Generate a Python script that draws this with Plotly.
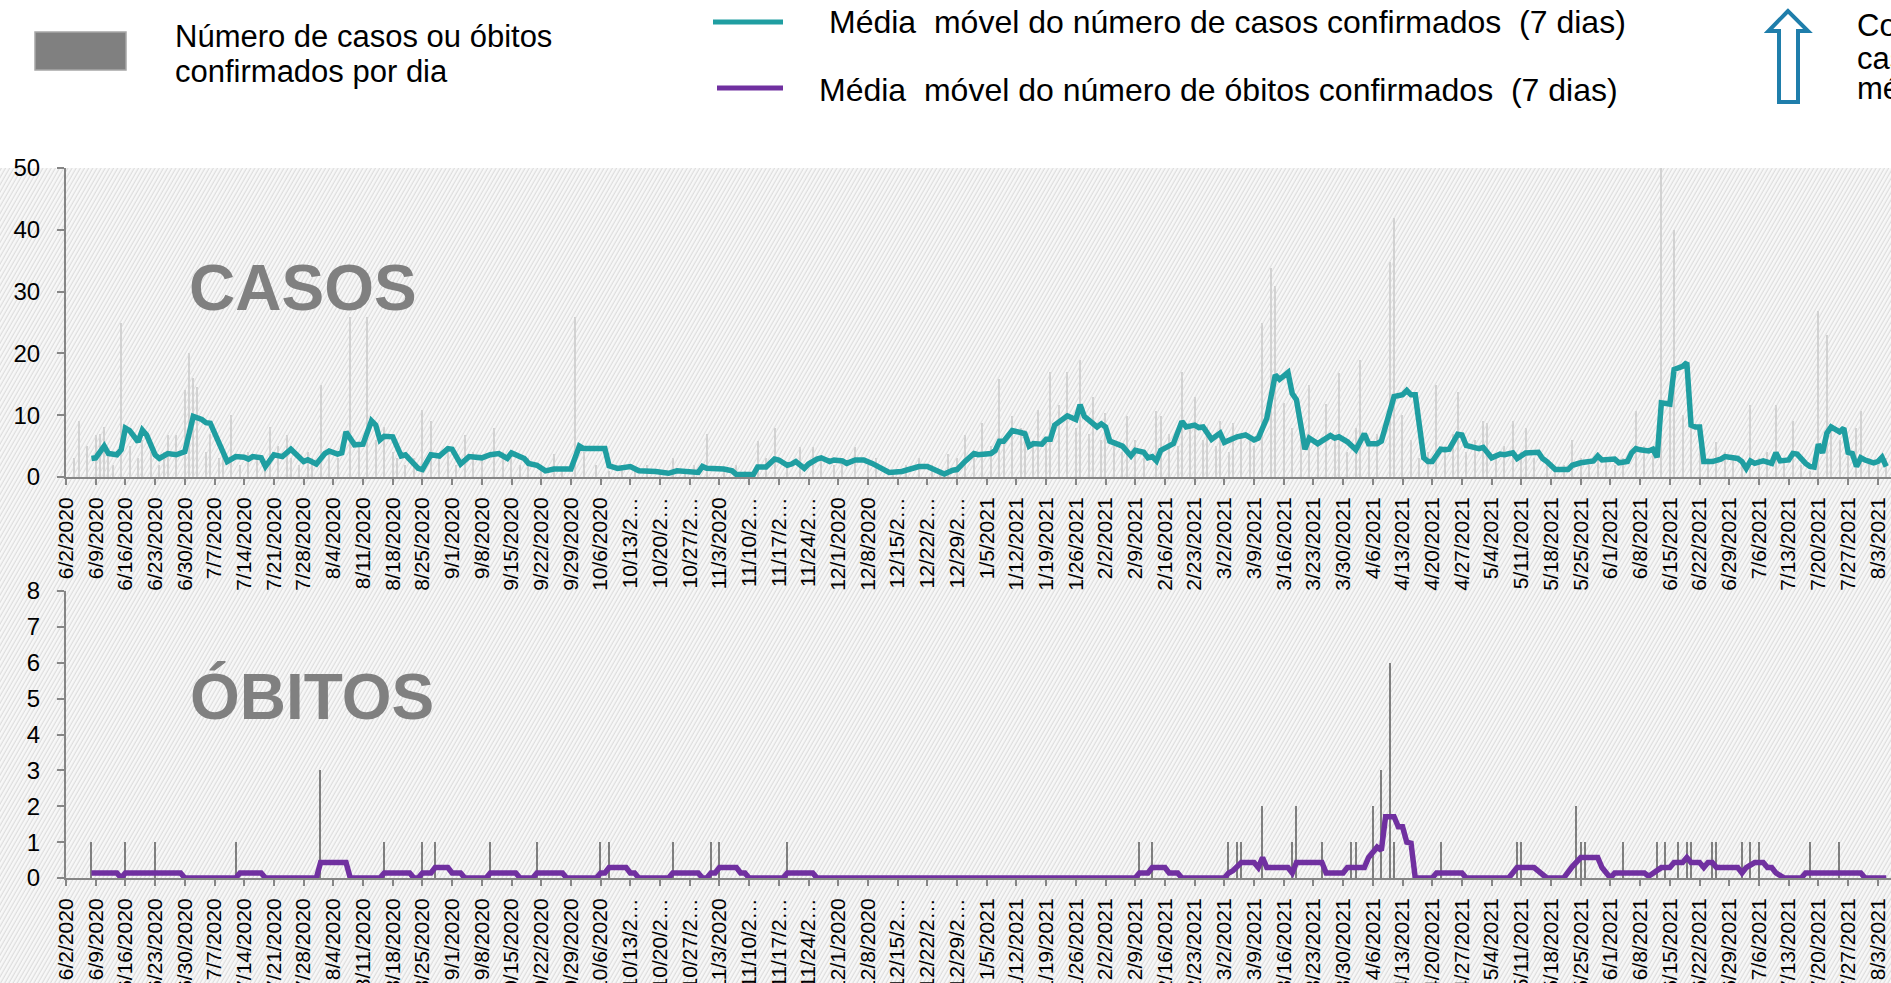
import base64
import pandas as pd
import plotly.graph_objects as go

W, H = 1891, 983
START = "2020-06-02"

# ---------------- data (day offsets counted from START) ----------------
# 7-day moving average of confirmed cases (vertices)
ma_cases_day = [6, 7, 9, 10, 12, 13, 14, 15, 17, 18, 19, 21, 22, 24, 26, 27, 28, 30, 32, 33, 34, 38, 40, 42, 43, 44,
                46, 47, 49, 51, 53, 56, 57, 59, 61, 62, 64, 65, 66, 68, 70, 72, 73, 74, 75, 77, 79, 80, 83, 84, 86, 88,
                90, 91, 93, 95, 98, 100, 102, 104, 105, 108, 109, 111, 113, 115, 119, 121, 122, 127, 128, 130, 133,
                135, 139, 142, 144, 149, 150, 151, 155, 157, 158, 162, 163, 165, 167, 168, 170, 171, 172, 174, 175,
                177, 178, 180, 181, 183, 184, 186, 188, 190, 192, 194, 197, 199, 201, 203, 205, 207, 209, 210, 212,
                214, 215, 218, 219, 220, 221, 223, 225, 226, 227, 228, 230, 231, 232, 233, 236, 238, 239, 240, 243,
                244, 245, 246, 249, 251, 252, 254, 255, 256, 257, 258, 261, 263, 264, 266, 267, 268, 270, 272, 273,
                276, 278, 280, 281, 283, 285, 286, 288, 289, 290, 292, 293, 295, 298, 299, 300, 302, 304, 306, 307,
                309, 310, 311, 313, 315, 316, 317, 318, 320, 321, 322, 324, 325, 326, 328, 329, 330, 332, 333, 334,
                336, 338, 339, 341, 342, 344, 347, 348, 349, 351, 354, 355, 357, 360, 361, 362, 365, 366, 368, 369,
                370, 371, 373, 374, 375, 376, 378, 379, 381, 382, 383, 384, 385, 386, 388, 390, 391, 394, 395, 396,
                397, 398, 400, 402, 403, 404, 406, 407, 408, 410, 411, 412, 413, 414, 415, 416, 418, 419, 420, 421,
                422, 423, 424, 426, 427, 428, 429]
ma_cases_val = [3.0, 3.1, 5.0, 3.8, 3.6, 4.4, 7.9, 7.5, 5.7, 7.6, 6.8, 3.6, 3.0, 3.8, 3.6, 3.9, 4.1, 9.8, 9.3, 8.8, 8.7,
                2.5, 3.3, 3.2, 2.9, 3.3, 3.1, 1.7, 3.6, 3.3, 4.5, 2.5, 2.8, 2.1, 3.8, 4.2, 3.7, 3.9, 7.3, 5.2, 5.3, 9.1,
                8.4, 6.0, 6.6, 6.5, 3.4, 3.6, 1.4, 1.2, 3.6, 3.4, 4.6, 4.5, 2.1, 3.3, 3.1, 3.6, 3.8, 3.0, 3.9, 3.0, 2.2,
                1.9, 1.0, 1.3, 1.3, 5.0, 4.6, 4.6, 1.8, 1.4, 1.7, 1.0, 0.9, 0.6, 1.0, 0.75, 1.7, 1.4, 1.3, 1.0, 0.4,
                0.4, 1.6, 1.6, 2.9, 2.75, 1.9, 2.1, 2.5, 1.4, 2.1, 2.9, 3.1, 2.5, 2.75, 2.6, 2.2, 2.75, 2.75, 2.2, 1.4,
                0.75, 0.9, 1.3, 1.7, 1.7, 1.1, 0.5, 1.1, 1.2, 2.6, 3.8, 3.6, 3.8, 4.3, 5.8, 5.8, 7.5, 7.2, 7.0, 5.0,
                5.4, 5.3, 6.1, 6.1, 8.4, 9.9, 9.3, 11.7, 9.8, 8.1, 8.6, 8.1, 5.8, 5.0, 3.4, 4.3, 4.0, 3.1, 3.3, 2.6,
                4.3, 5.4, 9.0, 8.1, 8.4, 8.0, 8.1, 6.1, 7.1, 5.6, 6.5, 6.8, 6.0, 6.3, 9.5, 16.5, 15.8, 16.9, 13.5,
                12.5, 4.5, 6.3, 5.4, 6.7, 6.3, 6.5, 5.7, 4.4, 7.0, 5.4, 5.4, 5.8, 8.1, 13.0, 13.3, 14.0, 13.3, 13.3,
                3.1, 2.5, 2.5, 4.5, 4.4, 4.5, 6.9, 6.8, 5.1, 4.9, 4.6, 4.8, 3.1, 3.7, 3.6, 3.9, 3.0, 3.9, 4.0, 3.0,
                2.5, 1.2, 1.2, 1.9, 2.3, 2.6, 3.4, 2.75, 2.9, 2.3, 2.5, 3.9, 4.6, 4.4, 4.2, 4.5, 3.2, 12.0, 11.8,
                17.4, 17.9, 18.5, 8.4, 8.1, 8.1, 2.5, 2.5, 2.9, 3.3, 3.0, 2.5, 1.4, 2.6, 2.2, 2.6, 2.2, 3.9, 2.6,
                2.75, 3.8, 3.7, 2.2, 1.7, 1.6, 5.3, 3.9, 7.1, 8.1, 7.3, 7.9, 4.0, 3.8, 1.7, 3.1, 2.75, 2.3, 2.5,
                3.2, 1.7]

# 7-day moving average of confirmed deaths
ma_deaths_day = [6, 12, 13, 14, 27, 28, 40, 41, 46, 47, 59, 60, 66, 67, 74, 75, 81, 82, 83, 84, 86, 87, 90, 91, 93, 94,
                 99, 100, 106, 107, 110, 111, 117, 118, 125, 126, 127, 128, 132, 133, 134, 135, 142, 143, 149, 150,
                 151, 152, 153, 154, 158, 159, 160, 161, 169, 170, 176, 177, 252, 253, 255, 256, 259, 260, 262, 263,
                 273, 274, 275, 277, 280, 281, 282, 283, 288, 289, 290, 296, 297, 301, 302, 306, 307, 308, 309, 310,
                 311, 313, 314, 315, 316, 317, 318, 322, 323, 329, 330, 340, 342, 346, 349, 353, 355, 357, 361, 362,
                 364, 365, 372, 373, 374, 376, 378, 379, 381, 382, 383, 385, 386, 387, 388, 389, 394, 395, 396, 398,
                 400, 401, 402, 403, 405, 409, 410, 423, 424, 429]
ma_deaths_val = [0.14, 0.14, 0.0, 0.14, 0.14, 0.0, 0.0, 0.14, 0.14, 0.0, 0.0, 0.43, 0.43, 0.0, 0.0, 0.14, 0.14, 0.0,
                 0.0, 0.14, 0.14, 0.29, 0.29, 0.14, 0.14, 0.0, 0.0, 0.14, 0.14, 0.0, 0.0, 0.14, 0.14, 0.0, 0.0, 0.14,
                 0.14, 0.29, 0.29, 0.14, 0.14, 0.0, 0.0, 0.14, 0.14, 0.0, 0.0, 0.14, 0.14, 0.29, 0.29, 0.14, 0.14,
                 0.0, 0.0, 0.14, 0.14, 0.0, 0.0, 0.14, 0.14, 0.29, 0.29, 0.14, 0.14, 0.0, 0.0, 0.14, 0.2, 0.43, 0.43,
                 0.29, 0.57, 0.29, 0.29, 0.14, 0.43, 0.43, 0.14, 0.14, 0.29, 0.29, 0.57, 0.71, 0.86, 0.77, 1.71, 1.71,
                 1.43, 1.43, 1.0, 0.97, 0.0, 0.0, 0.14, 0.14, 0.0, 0.0, 0.29, 0.29, 0.0, 0.0, 0.32, 0.57, 0.57, 0.29,
                 0.0, 0.14, 0.14, 0.05, 0.14, 0.29, 0.29, 0.43, 0.43, 0.57, 0.43, 0.43, 0.29, 0.43, 0.43, 0.29, 0.29,
                 0.14, 0.29, 0.43, 0.43, 0.29, 0.29, 0.14, 0.0, 0.0, 0.14, 0.14, 0.0, 0.0]

# daily confirmed cases (bars) - larger spikes
case_spike_day = [3, 7, 9, 13, 24, 26, 28, 29, 30, 31, 39, 48, 52, 60, 67, 71, 75, 84, 86, 94, 101, 115, 120, 143, 151,
                  163, 167, 173, 176, 186, 208, 212, 216, 220, 223, 226, 229, 232, 234, 236, 239, 242, 245, 250, 257,
                  258, 263, 266, 269, 272, 275, 279, 282, 284, 285, 293, 297, 300, 305, 312, 313, 323, 328, 334, 335,
                  341, 344, 355, 370, 376, 379, 389, 397, 403, 407, 413, 415, 422, 423]
case_spike_val = [9, 6.8, 8.1, 25, 6.8, 6.8, 14.1, 20, 16, 14.6, 10, 8.1, 6.8, 14.9, 25.9, 25.9, 8.1, 10.8, 9, 6.8, 7.9,
                  3.8, 25.9, 3, 7.0, 5.8, 7.9, 4.9, 4.8, 4.8, 3.8, 6.8, 8.8, 15.8, 9.8, 7.6, 10.8, 17, 11.7, 17, 19, 13,
                  10.3, 9.9, 10.7, 9.8, 17, 12.9, 8.1, 9, 8.7, 6.5, 24.9, 33.9, 30.9, 14.9, 11.8, 16.9, 19, 34.8, 41.9,
                  14.9, 13.8, 9, 8.7, 9, 7.9, 6, 10.7, 50, 39.9, 5.7, 11.7, 11.7, 9, 26.8, 22.9, 7.9, 10.7]
# daily confirmed cases (bars) - smaller days
case_small_day = [2, 5, 8, 10, 11, 15, 17, 18, 20, 22, 23, 33, 34, 36, 37, 41, 43, 45, 47, 50, 53, 55, 57, 58, 62, 64,
                  69, 73, 77, 78, 80, 82, 88, 90, 92, 96, 98, 103, 105, 107, 109, 112, 117, 122, 125, 128, 131, 134,
                  137, 140, 146, 148, 155, 158, 160, 165, 170, 178, 181, 183, 189, 191, 195, 198, 201, 204, 206, 210,
                  214, 218, 221, 225, 228, 231, 238, 241, 244, 247, 249, 252, 254, 260, 262, 265, 268, 271, 274, 277,
                  280, 287, 289, 291, 295, 299, 302, 304, 307, 309, 315, 317, 319, 321, 325, 327, 330, 332, 337, 339,
                  343, 346, 349, 351, 353, 357, 359, 361, 363, 365, 367, 372, 374, 378, 381, 383, 385, 387, 391, 393,
                  395, 399, 401, 405, 409, 411, 416, 418, 420, 425, 427, 429]
case_small_val = [3, 5, 7, 4, 2, 5, 3, 6, 4, 2, 4, 4, 7, 3, 5, 2, 4, 3, 2, 5, 3, 2, 4, 3, 4, 3, 5, 6, 4, 3, 2, 3, 3, 5,
                  2, 4, 3, 4, 3, 2, 3, 2, 1, 4, 2, 1, 2, 1, 2, 1, 1, 2, 1, 2, 1, 3, 2, 3, 2, 3, 2, 3, 1, 2, 3, 2, 1, 3,
                  4, 5, 6, 8, 5, 6, 8, 7, 6, 5, 4, 6, 3, 7, 5, 8, 6, 5, 4, 7, 5, 12, 8, 6, 5, 6, 4, 8, 5, 7, 10, 6, 3,
                  4, 5, 7, 4, 6, 3, 5, 4, 3, 2, 1, 2, 3, 2, 4, 3, 2, 3, 5, 4, 12, 10, 8, 6, 3, 4, 3, 2, 3, 4, 3, 2, 1,
                  8, 6, 5, 3, 2, 3]

# daily confirmed deaths (bars)
death_day = [6, 14, 21, 40, 60, 75, 84, 87, 100, 111, 126, 128, 143, 152, 154, 170, 253, 256, 274, 276, 277, 282, 289,
             290, 296, 303, 304, 308, 310, 312, 313, 324, 342, 343, 356, 357, 358, 367, 375, 377, 380, 382, 383, 388,
             389, 395, 397, 399, 411, 418]
death_val = [1, 1, 1, 1, 3, 1, 1, 1, 1, 1, 1, 1, 1, 1, 1, 1, 1, 1, 1, 1, 1, 2, 1, 2, 1, 1, 1, 2, 3, 6, 1, 1, 1, 1, 2,
             1, 1, 1, 1, 1, 1, 1, 1, 1, 1, 1, 1, 1, 1, 1]

N_WEEKS = 62
TRUNCATED = {"10/13/2020", "10/20/2020", "10/27/2020", "11/10/2020", "11/17/2020", "11/24/2020",
             "12/15/2020", "12/22/2020", "12/29/2020"}

# ---------------- helpers ----------------
start = pd.Timestamp(START)


def to_dates(days):
    return [start + pd.Timedelta(days=d) for d in days]


def px(x):
    return x / W


def py(y):
    return 1 - y / H


tick_dates = [start + pd.Timedelta(weeks=k) for k in range(N_WEEKS)]
tick_text = []
for t in tick_dates:
    s = f"{t.month}/{t.day}/{t.year}"
    if s in TRUNCATED:
        s = s[:-3] + "…"
    tick_text.append(s)

x_end = start + pd.Timedelta(days=(W - 66) / 4.243)
x_range = [start.strftime("%Y-%m-%d"), x_end.strftime("%Y-%m-%d %H:%M:%S")]

TEAL = "#1F9EA1"
PURPLE = "#7030A0"
AXIS = "#868686"
FONT = "Liberation Sans, Arial, sans-serif"
DAY_MS = 86400000

fig = go.Figure()

case_days = case_spike_day + case_small_day
case_vals = case_spike_val + case_small_val
fig.add_trace(go.Bar(x=to_dates(case_days), y=case_vals, width=0.26 * DAY_MS,
                     marker=dict(color="#d2d2d2", line=dict(width=0)), xaxis="x", yaxis="y",
                     showlegend=False))
fig.add_trace(go.Scatter(x=to_dates(ma_cases_day), y=ma_cases_val, mode="lines",
                         line=dict(color=TEAL, width=5.5), xaxis="x", yaxis="y", showlegend=False))
fig.add_trace(go.Bar(x=to_dates(death_day), y=death_val, width=0.3 * DAY_MS,
                     marker=dict(color="#7f7f7f", line=dict(width=0)), xaxis="x2", yaxis="y2",
                     showlegend=False))
fig.add_trace(go.Scatter(x=to_dates(ma_deaths_day), y=ma_deaths_val, mode="lines",
                         line=dict(color=PURPLE, width=5.5), xaxis="x2", yaxis="y2", showlegend=False))

xdom = [px(66), 1]
common_x = dict(type="date", range=x_range, domain=xdom, tickmode="array",
                tickvals=tick_dates, ticktext=tick_text, tickangle=-90,
                tickfont=dict(family=FONT, size=21, color="#000"), showgrid=False, zeroline=False,
                showline=True, linecolor=AXIS, linewidth=2, ticks="outside", ticklen=6,
                tickcolor=AXIS, tickwidth=2, automargin=False, ticklabelstandoff=4)
common_y = dict(showgrid=False, zeroline=False, showline=True, linecolor=AXIS, linewidth=2,
                ticks="outside", ticklen=7, tickcolor=AXIS, tickwidth=2,
                tickfont=dict(family=FONT, size=24, color="#000"), automargin=False,
                ticklabelstandoff=12)

fig.update_layout(
    width=W, height=H, margin=dict(l=0, r=0, t=0, b=0),
    paper_bgcolor="white", plot_bgcolor="rgba(0,0,0,0)",
    bargap=0,
    xaxis=dict(common_x, anchor="y"),
    yaxis=dict(common_y, domain=[py(477), py(168)], range=[0, 50], tickvals=[0, 10, 20, 30, 40, 50],
               anchor="x"),
    xaxis2=dict(common_x, anchor="y2"),
    yaxis2=dict(common_y, domain=[py(878), py(591)], range=[0, 8], tickvals=list(range(9)), anchor="x2"),
)

# hatched background (svg pattern image)
hatch_h = H - 168
svg = (f'<svg xmlns="http://www.w3.org/2000/svg" width="{W}" height="{hatch_h}" viewBox="0 0 {W} {hatch_h}">'
       '<defs><pattern id="p" patternUnits="userSpaceOnUse" width="3.6" height="8" patternTransform="rotate(30)">'
       '<rect width="3.6" height="8" fill="#f8f8f8"/>'
       '<line x1="1.2" y1="0" x2="1.2" y2="8" stroke="#dddddd" stroke-width="1.2"/></pattern></defs>'
       f'<rect width="{W}" height="{hatch_h}" fill="url(#p)"/></svg>')
src = "data:image/svg+xml;base64," + base64.b64encode(svg.encode()).decode()
fig.add_layout_image(dict(source=src, xref="paper", yref="paper", x=0, y=py(168), sizex=1,
                          sizey=hatch_h / H, xanchor="left", yanchor="top", sizing="stretch",
                          layer="below"))

# legend drawn by hand
shapes = [
    dict(type="rect", xref="paper", yref="paper", x0=px(35), x1=px(126), y0=py(70), y1=py(32),
         fillcolor="#808080", line=dict(color="#a6a6a6", width=1.5)),
    dict(type="line", xref="paper", yref="paper", x0=px(713), x1=px(783), y0=py(22), y1=py(22),
         line=dict(color=TEAL, width=5)),
    dict(type="line", xref="paper", yref="paper", x0=px(717), x1=px(783), y0=py(88), y1=py(88),
         line=dict(color=PURPLE, width=5)),
]
arrow_pts = [(1788, 11), (1768.5, 31), (1779, 31), (1779, 102), (1798, 102), (1798, 31), (1808, 31)]
path = "M " + " L ".join(f"{px(x):.5f},{py(y):.5f}" for x, y in arrow_pts) + " Z"
shapes.append(dict(type="path", xref="paper", yref="paper", path=path, fillcolor="white",
                   line=dict(color="#1F7EAB", width=4)))
fig.update_layout(shapes=shapes)


def label(text, x, y, size=31, color="#000", anchor="left", bold=False):
    fig.add_annotation(text=f"<b>{text}</b>" if bold else text, x=px(x), y=py(y), xref="paper",
                       yref="paper", xanchor=anchor, yanchor="middle", showarrow=False,
                       font=dict(family=FONT, size=size, color=color))


label("Número de casos ou óbitos", 173, 36)
label("confirmados por dia", 173, 72)
label("Média  móvel do número de casos confirmados  (7 dias)", 827, 22, size=32)
label("Média  móvel do número de óbitos confirmados  (7 dias)", 817, 90, size=32)
label("Co", 1855, 26)
label("cas", 1855, 59)
label("mé", 1855, 89)
label("CASOS", 303, 288, size=64, color="#808080", anchor="center", bold=True)
label("ÓBITOS", 312, 697, size=64, color="#808080", anchor="center", bold=True)

fig.write_html("out.html", config={"displayModeBar": False},
               post_script="document.body.style.margin='0';document.body.style.overflow='hidden';")
